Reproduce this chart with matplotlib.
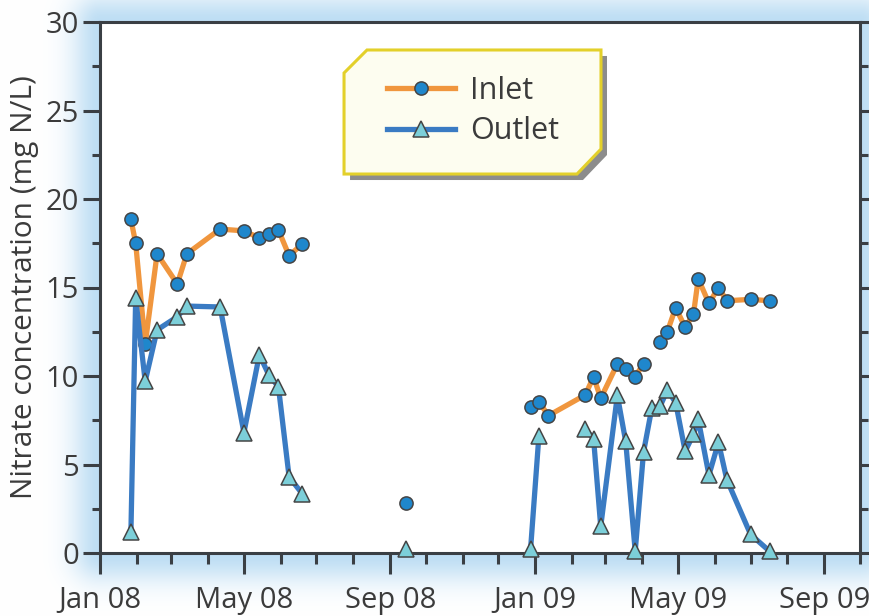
import numpy as np
import pandas as pd
import matplotlib
matplotlib.use("Agg")
import matplotlib.pyplot as plt
import matplotlib.dates as mdates
from matplotlib.lines import Line2D
from matplotlib.patches import Polygon
from matplotlib.transforms import offset_copy

plt.rcParams['font.family'] = ['Open Sans', 'DejaVu Sans']

# sampling dates (three campaigns)
dates = ["2008-01-27", "2008-01-31", "2008-02-08", "2008-02-18", "2008-03-06", "2008-03-14",
         "2008-04-11", "2008-05-01", "2008-05-14", "2008-05-22", "2008-05-30", "2008-06-08",
         "2008-06-19",
         "2008-09-14",
         "2008-12-28", "2009-01-04", "2009-01-12", "2009-02-12", "2009-02-19", "2009-02-25",
         "2009-03-11", "2009-03-18", "2009-03-26", "2009-04-02", "2009-04-09", "2009-04-16",
         "2009-04-22", "2009-04-29", "2009-05-07", "2009-05-14", "2009-05-18", "2009-05-27",
         "2009-06-04", "2009-06-11", "2009-07-01", "2009-07-17"]

nan = np.nan
inlet = [18.85, 17.5, 11.8, 16.9, 15.2, 16.9, 18.3, 18.2, 17.8, 18.0, 18.25, 16.8, 17.45,
         2.8,
         8.27, 8.55, 7.76, 8.93, 9.96, 8.74, 10.68, 10.4, 9.96, 10.7, nan, 11.9,
         12.5, 13.86, 12.75, 13.5, 15.5, 14.1, 15.0, 14.25, 14.33, 14.25]
outlet = [1.2, 14.4, 9.7, 12.6, 13.35, 13.95, 13.9, 6.8, 11.2, 10.05, 9.4, 4.3, 3.35,
          0.2,
          0.2, 6.6, nan, 7.0, 6.45, 1.5, 8.9, 6.3, 0.1, 5.7, 8.2, 8.3,
          9.2, 8.5, 5.75, 6.7, 7.55, 4.4, 6.25, 4.15, 1.05, 0.1]

df = pd.DataFrame({"date": pd.to_datetime(dates), "inlet": inlet, "outlet": outlet})
# a new campaign starts after a long pause
df["run"] = (df["date"].diff().dt.days > 45).cumsum()

text_col = "#3b3b3b"
spine_col = "#3a3f44"
orange = "#f0963e"
blue_dot = "#1f87cc"
blue_line = "#3a7bc3"
tri_fill = "#7ccfd9"
edge = "#454545"

W, H = 870, 616
fig = plt.figure(figsize=(W / 100, H / 100), dpi=100)

# light blue glow around the plotting frame
L, R, T, B = 100, 860, 22, 553
yy, xx = np.mgrid[0:H, 0:W]
dx = np.maximum(np.maximum(L - xx, xx - R), 0)
dy = np.maximum(np.maximum(T - yy, yy - B), 0)
d = np.hypot(dx, dy)
a = np.exp(-0.5 * (d / 20.0) ** 2)
a[(dx == 0) & (dy == 0)] = 0
glow = np.array([190, 222, 244]) / 255.0
img = 1 - a[..., None] * (1 - glow)
bg = fig.add_axes([0, 0, 1, 1], zorder=-5)
bg.imshow(img, aspect="auto", interpolation="bilinear")
bg.axis("off")

ax = fig.add_axes([L / W, 1 - B / H, (R - L) / W, (B - T) / H])
ax.set_facecolor("white")

for i, (_, g) in enumerate(df.groupby("run")):
    ax.plot(g["date"], g["inlet"], color=orange, lw=3.8, marker="o", ms=9.5,
            mfc=blue_dot, mec=edge, mew=1.1, clip_on=False, zorder=3)
    ax.plot(g["date"], g["outlet"], color=blue_line, lw=3.8, marker="^", ms=11.5,
            mfc=tri_fill, mec=edge, mew=1.1, clip_on=False, zorder=4)

ax.set_xlim(pd.Timestamp("2008-01-01"), pd.Timestamp("2009-10-01"))
ax.set_ylim(0, 30)
ax.xaxis.set_major_locator(mdates.MonthLocator(bymonth=[1, 5, 9]))
ax.xaxis.set_minor_locator(mdates.MonthLocator())
ax.xaxis.set_major_formatter(mdates.DateFormatter("%b %y"))
ax.set_yticks(np.arange(0, 31, 5))
ax.set_yticks(np.arange(2.5, 30, 5), minor=True)

for s in ax.spines.values():
    s.set_color(spine_col)
    s.set_linewidth(2.2)

ax.tick_params(axis="x", which="major", direction="out", length=15, width=2.2,
               color=spine_col, labelsize=21, labelcolor=text_col, pad=9)
ax.tick_params(axis="x", which="minor", direction="out", length=8, width=2.2, color=spine_col)
ax.tick_params(axis="y", which="major", direction="out", length=12, width=2.2,
               color=spine_col, labelsize=21, labelcolor=text_col, pad=3, right=True)
ax.tick_params(axis="y", which="minor", direction="out", length=6, width=2.2,
               color=spine_col, right=True)
ax.tick_params(axis="y", which="both", labelright=False)

ax.set_ylabel("Nitrate concentration (mg N/L)", fontsize=21.5, color=text_col, labelpad=5)

# legend box with cut corners and drop shadow
box = [(0.3211, 0.9040), (0.3513, 0.9473), (0.6592, 0.9473), (0.6592, 0.7608),
       (0.6276, 0.7137), (0.3211, 0.7137)]
shadow_tr = offset_copy(ax.transAxes, fig=fig, x=6, y=-6, units="dots")
ax.add_patch(Polygon(box, closed=True, transform=shadow_tr, facecolor="#8c8c8c",
                     edgecolor="none", zorder=6, clip_on=False))
ax.add_patch(Polygon(box, closed=True, transform=ax.transAxes, facecolor="#fdfdf0",
                     edgecolor="#e3d02a", lw=2.2, zorder=7, clip_on=False))

handles = [Line2D([], [], color=orange, lw=3.8, marker="o", ms=9.5, mfc=blue_dot, mec=edge, mew=1.1),
           Line2D([], [], color=blue_line, lw=3.8, marker="^", ms=11.5, mfc=tri_fill, mec=edge, mew=1.1)]
leg = ax.legend(handles, ["Inlet", "Outlet"], loc="upper left", bbox_to_anchor=(0.378, 0.898),
                frameon=False, fontsize=22, handlelength=2.2, handletextpad=0.5,
                labelspacing=0.33, borderpad=0, borderaxespad=0, numpoints=1)
for t in leg.get_texts():
    t.set_color(text_col)
leg.set_zorder(8)

fig.savefig("out.png", dpi=100)
